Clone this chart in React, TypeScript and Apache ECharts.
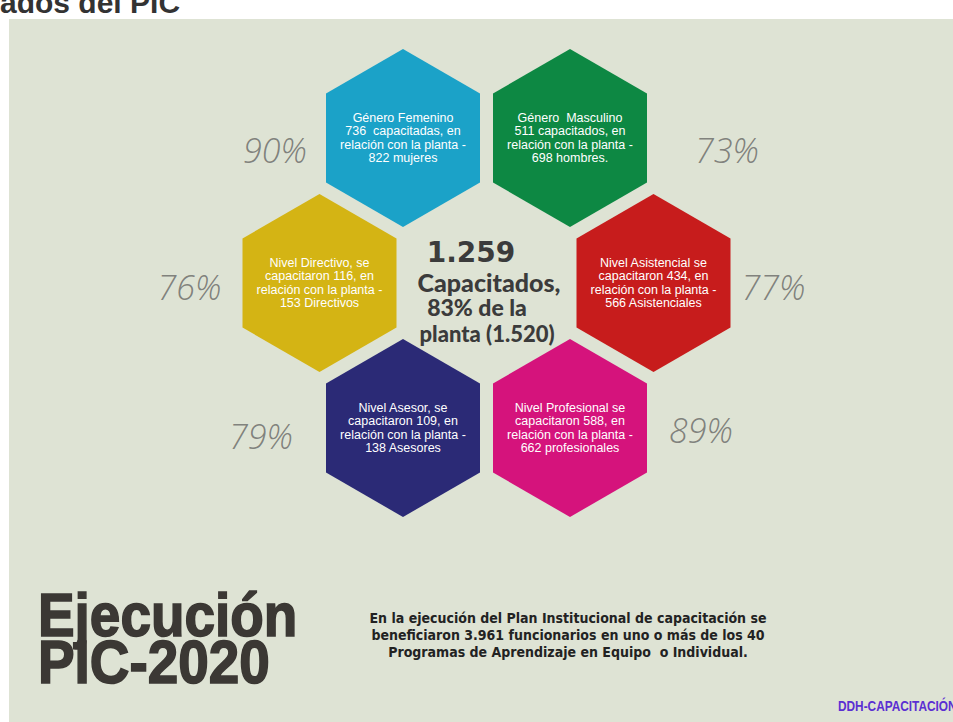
import React, { useEffect, useRef } from "react";
import * as echarts from "echarts";

// ---- data ----
const categories = [
  "Género Femenino",
  "Género Masculino",
  "Nivel Directivo",
  "Nivel Asistencial",
  "Nivel Asesor",
  "Nivel Profesional",
];
const headlines = [
  "Género Femenino",
  "Género  Masculino",
  "Nivel Directivo, se",
  "Nivel Asistencial se",
  "Nivel Asesor, se",
  "Nivel Profesional se",
];
const trained = [736, 511, 116, 434, 109, 588];
const plant = [822, 698, 153, 566, 138, 662];
const plantLabels = ["mujeres", "hombres.", "Directivos", "Asistenciales", "Asesores", "profesionales"];
const percents = [90, 73, 76, 77, 79, 89];
const totalTrained = "1.259";
const totalPercent = "83%";
const totalPlant = "1.520";
const footnote = [
  "En la ejecución del Plan Institucional de capacitación se",
  "beneficiaron 3.961 funcionarios en uno o más de los 40",
  "Programas de Aprendizaje en Equipo  o Individual.",
];

// ---- layout / style ----
const colors = ["#1ba2c8", "#0d8843", "#d4b414", "#c71c1c", "#2b2a76", "#d5137c"];
const hexCell: [number, number][] = [
  [1, 0],
  [2, 0],
  [0.5, 1],
  [2.5, 1],
  [1, 2],
  [2, 2],
];
const pctOffset: [number, number][] = [
  [-128, 12],
  [157, 12],
  [-130, 4],
  [120, 4],
  [-142, 8],
  [131, 2],
];
const W = 953;
const H = 722;
const colPx = 167;
const rowPx = 145;
const origin = [403 - colPx, 138];

function hexLabel(i: number): string {
  const line2 = i < 2
    ? `${trained[i]}${i === 0 ? "  capacitadas" : " capacitados"}, en`
    : `capacitaron ${trained[i]}, en`;
  const line4 = `${plant[i]} ${plantLabels[i]}`;
  return [headlines[i], line2, "relación con la planta -", line4].join("\n");
}

export default function App() {
  const ref = useRef<HTMLDivElement>(null);
  useEffect(() => {
    document.body.style.margin = "0";
    const chart = echarts.init(ref.current!, undefined, { renderer: "svg" });
    const xmin = -origin[0] / colPx;
    const ymin = -origin[1] / rowPx;
    const hexPath = "path://M0,-100 L86.6,-50 L86.6,50 L0,100 L-86.6,50 L-86.6,-50 Z";
    const narrow = "'Liberation Sans', Arial, sans-serif";
    chart.setOption({
      animation: false,
      backgroundColor: "#ffffff",
      grid: { left: 0, right: 0, top: 0, bottom: 0, containLabel: false },
      xAxis: { type: "value", min: xmin, max: xmin + W / colPx, show: false },
      yAxis: { type: "value", min: ymin, max: ymin + H / rowPx, inverse: true, show: false },
      graphic: [
        { type: "rect", z: -10, shape: { x: 9, y: 19, width: W - 9, height: H - 19 }, style: { fill: "#dee3d4" }, silent: true },
        {
          type: "text", x: 0, y: 17,
          style: { text: "ados del PIC", fill: "#333333", font: `bold 30px ${narrow}`, textVerticalAlign: "bottom", textAlign: "left" },
        },
        {
          type: "text", x: 489, y: 291,
          style: {
            text: `{a|${totalTrained}}\n{b|Capacitados,}\n{c|${totalPercent} de la}\n{d|planta (${totalPlant})}`,
            textAlign: "center",
            textVerticalAlign: "middle",
            fill: "#3b3b3b",
            rich: {
              a: { fontFamily: "'DejaVu Sans', sans-serif", fontWeight: "bold", fontSize: 28, lineHeight: 34, padding: [0, 36, 0, 0], fill: "#3b3b3b", color: "#3b3b3b" },
              b: { fontFamily: "Lato, sans-serif", fontWeight: 900, fontSize: 25, lineHeight: 26, fill: "#3b3b3b", color: "#3b3b3b" },
              c: { fontFamily: "Lato, sans-serif", fontWeight: 900, fontSize: 23, lineHeight: 24, padding: [0, 24, 0, 0], fill: "#3b3b3b", color: "#3b3b3b" },
              d: { fontFamily: "Lato, sans-serif", fontWeight: 900, fontSize: 22, lineHeight: 28, padding: [0, 4, 0, 0], fill: "#3b3b3b", color: "#3b3b3b" },
            },
          },
        },
        {
          type: "text", x: 38, y: 638, scaleX: 0.9,
          style: {
            text: "Ejecución\nPIC-2020", fill: "#3b3834", stroke: "#3b3834", lineWidth: 1.6,
            font: `bold 61px ${narrow}`, lineHeight: 47, textAlign: "left", textVerticalAlign: "middle",
          },
        },
        {
          type: "text", x: 568, y: 635,
          style: {
            text: footnote.join("\n"), fill: "#222222", lineHeight: 17,
            font: "bold 14px 'DejaVu Sans Condensed', 'DejaVu Sans', sans-serif", textAlign: "center", textVerticalAlign: "middle",
          },
        },
        {
          type: "text", x: 838, y: 706, scaleX: 0.79,
          style: { text: "DDH-CAPACITACIÓN", fill: "#5b2fd2", font: `bold 15px ${narrow}`, textAlign: "left", textVerticalAlign: "middle" },
        },
      ],
      series: [
        {
          type: "scatter",
          symbol: hexPath,
          symbolSize: [154, 178],
          symbolKeepAspect: false,
          data: categories.map((c, i) => ({
            name: c,
            value: hexCell[i],
            itemStyle: { color: colors[i], opacity: 1 },
            label: { formatter: hexLabel(i) },
          })),
          label: {
            show: true,
            position: "inside",
            color: "#ffffff",
            fontSize: 12.5,
            lineHeight: 13.5,
            fontFamily: narrow,
            align: "center",
          },
          emphasis: { disabled: true },
          silent: true,
        },
        {
          type: "scatter",
          symbol: "circle",
          symbolSize: 1,
          itemStyle: { color: "rgba(0,0,0,0)" },
          data: percents.map((p, i) => ({
            name: categories[i],
            value: hexCell[i],
            label: { offset: pctOffset[i] },
          })),
          label: {
            show: true,
            position: "inside",
            formatter: (p: any) => `${percents[p.dataIndex]}%`,
            color: "#676765",
            fontSize: 34,
            fontStyle: "italic",
            fontWeight: 300,
            fontFamily: "'Open Sans', 'Liberation Sans', sans-serif",
          },
          emphasis: { disabled: true },
          silent: true,
        },
      ],
    });
    return () => chart.dispose();
  }, []);
  return <div ref={ref} style={{ position: "absolute", left: 0, top: 0, width: W, height: H }} />;
}
